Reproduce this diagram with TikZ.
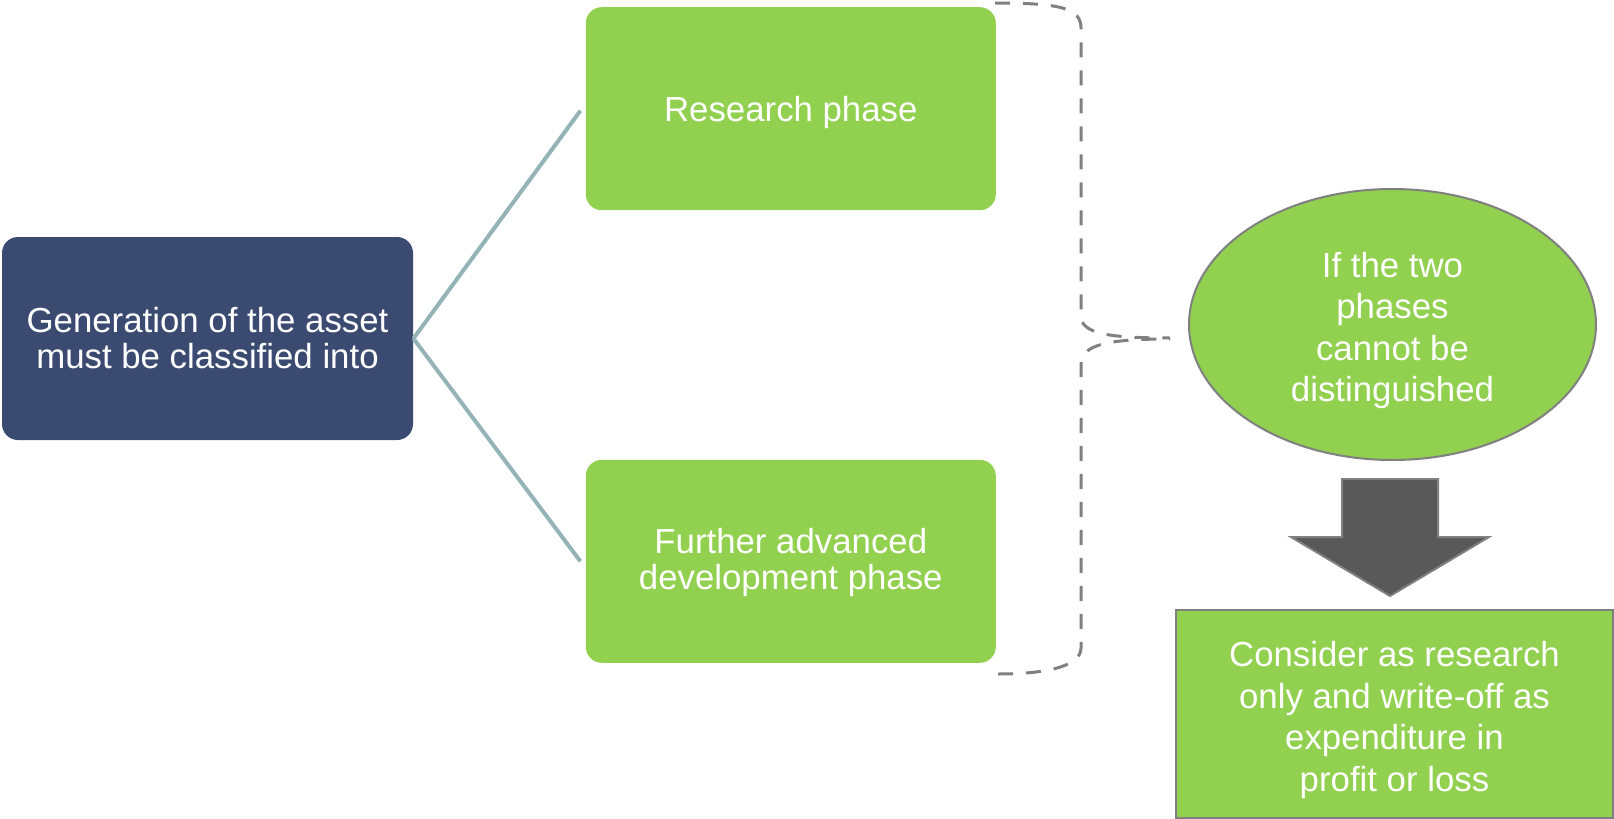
\documentclass[tikz,border=0pt]{standalone}
\usepackage{fontspec}
\setmainfont{Liberation Sans}
\usepackage{tikz}
\usetikzlibrary{positioning,shapes.geometric}

\definecolor{navy}{HTML}{3B4A70}
\definecolor{leaf}{HTML}{92D050}
\definecolor{linkcol}{HTML}{93B3B7}
\definecolor{edgegray}{HTML}{808080}
\definecolor{arrowfill}{HTML}{595959}
\newcommand{\padtop}[1]{\rule{0pt}{#1}}

\begin{document}
\begin{tikzpicture}[x=0.5pt, y=-0.5pt, node distance=86pt,
  link/.style={draw=linkcol, line width=2pt},
  bracket/.style={draw=edgegray, line width=1.5pt, dash pattern=on 7.5pt off 6.5pt},
  navybox/.style={rectangle, fill=navy, text=white, rounded corners=8pt, minimum width=205.5pt, minimum height=101.5pt, align=center, inner sep=0pt, font=\fontsize{17.4pt}{18pt}\selectfont},
  greenbox/.style={rectangle, fill=leaf, text=white, rounded corners=8pt, minimum width=205pt, minimum height=101.5pt, align=center, inner sep=0pt, font=\fontsize{17.4pt}{18pt}\selectfont},
  oval/.style={ellipse, fill=leaf, draw=edgegray, line width=1pt, text=white, minimum width=203.5pt, minimum height=135.5pt, align=center, inner sep=0pt, font=\fontsize{17.4pt}{20.75pt}\selectfont},
  resultbox/.style={rectangle, fill=leaf, draw=edgegray, line width=1pt, text=white, minimum width=218.5pt, minimum height=104pt, align=center, inner sep=0pt, font=\fontsize{17.4pt}{20.75pt}\selectfont}]
\useasboundingbox (0,0) rectangle (1614,819);
\node[navybox] (gen) at (207.5,338.5) {Generation of the asset\\must be classified into};
\node[greenbox, above right=13pt and 86pt of gen] (res) {\padtop{16.5pt}Research phase};
\node[greenbox, below right=9.5pt and 86pt of gen] (dev) {\padtop{13.5pt}Further advanced\\development phase};
\draw[link] (gen.east) -- ([xshift=-2.5pt,yshift=-1pt]res.west);
\draw[link] (gen.east) -- ([xshift=-2.5pt]dev.west);
% brace round both phases
\draw[bracket] (995,3) .. controls (1060,3) and (1081,8) .. (1081,28) -- (1081,316)
  .. controls (1081,334) and (1110,338) .. (1170,338);
\draw[bracket] (998,674) .. controls (1040,674) and (1081,668) .. (1081,648) -- (1081,364)
  .. controls (1081,344) and (1110,339) .. (1170,339);
\node[oval] (nodist) at (1392.5,324.5) {\padtop{18.5pt}If the two\\phases\\cannot be\\distinguished};
% block arrow
\draw[fill=arrowfill, draw=edgegray, line width=1pt] (1342,479) -- (1438,479) -- (1438,537)
  -- (1489,537) -- (1390,596) -- (1291,537) -- (1342,537) -- cycle;
\node[resultbox] (writeoff) at (1394.5,714) {\padtop{18.5pt}Consider as research\\only and write-off as\\expenditure in\\profit or loss};
\end{tikzpicture}
\end{document}
